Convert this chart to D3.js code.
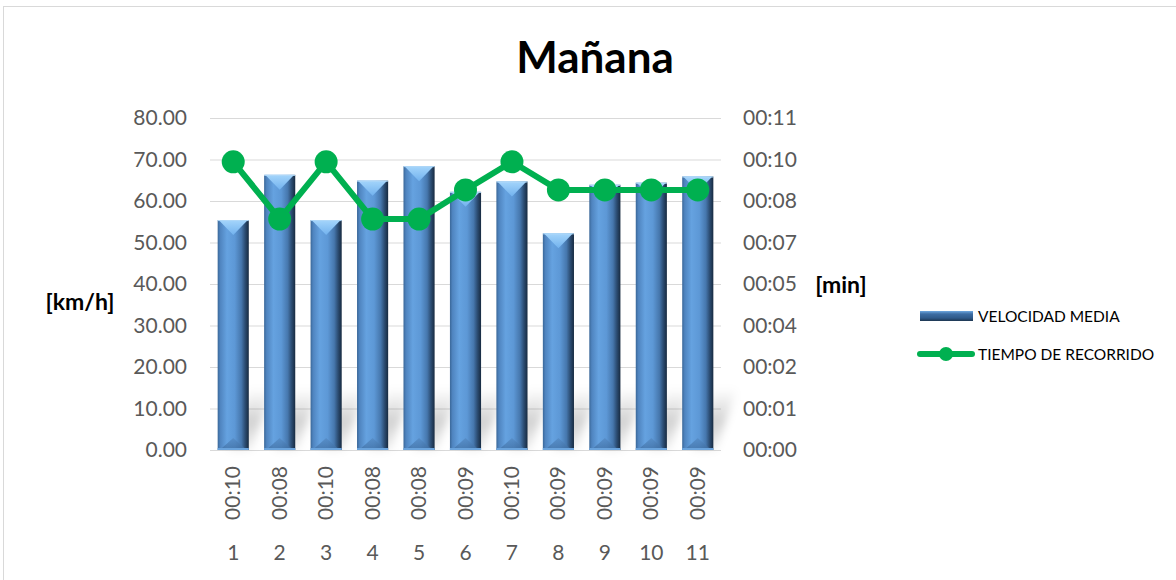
<!DOCTYPE html>
<html>
<head>
<meta charset="utf-8">
<script src="https://cdn.jsdelivr.net/npm/d3@7"></script>
<style>
  html, body { margin: 0; padding: 0; background: #fff; }
  svg { display: block; font-family: Lato, "Open Sans", sans-serif; }
</style>
</head>
<body>
<svg id="chart" width="1176" height="580"></svg>
<script>
// Trip numbers along the bottom axis
const categories = [1, 2, 3, 4, 5, 6, 7, 8, 9, 10, 11];
// Average speed per trip, km/h
const speedValues = [55.4, 66.3, 55.4, 64.9, 68.4, 62.2, 64.7, 52.2, 63.9, 64.4, 65.9];
// Travel time per trip, seconds
const travelSeconds = [573, 459, 573, 459, 459, 517, 573, 517, 517, 517, 517];
// Left axis ticks
const speedTicks = [0, 10, 20, 30, 40, 50, 60, 70, 80];
// Right axis tick labels (nine evenly spaced ticks up to 11 minutes)
const timeTickLabels = ["00:00", "00:01", "00:02", "00:04", "00:05", "00:07", "00:08", "00:10", "00:11"];
const timeMax = 660;
const seriesNames = ["VELOCIDAD MEDIA", "TIEMPO DE RECORRIDO"];

const svg = d3.select("#chart");
const W = 1176, H = 580;
const plot = { left: 210, right: 721, top: 118, bottom: 450 };

// Outer frame
svg.append("rect").attr("x", 3.5).attr("y", 6.5).attr("width", W).attr("height", H)
  .attr("fill", "#fff").attr("stroke", "#d9d9d9").attr("stroke-width", 1);

const defs = svg.append("defs");

// Cylinder-like body shading for the bars
const body = defs.append("linearGradient").attr("id", "barBody").attr("x1", 0).attr("x2", 1).attr("y1", 0).attr("y2", 0);
[[0, "#3a6798"], [0.08, "#4f84bf"], [0.3, "#65a2e0"], [0.55, "#5d98d6"], [0.76, "#4677ad"], [0.88, "#2c4d73"], [1, "#172a40"]]
  .forEach(([o, c]) => body.append("stop").attr("offset", o).attr("stop-color", c));

const bevelTop = defs.append("linearGradient").attr("id", "bevelTop").attr("x1", 0).attr("x2", 0).attr("y1", 0).attr("y2", 1);
bevelTop.append("stop").attr("offset", 0).attr("stop-color", "#a4d5fb");
bevelTop.append("stop").attr("offset", 1).attr("stop-color", "#72b2ee");

const bevelBottom = defs.append("linearGradient").attr("id", "bevelBottom").attr("x1", 0).attr("x2", 0).attr("y1", 0).attr("y2", 1);
bevelBottom.append("stop").attr("offset", 0).attr("stop-color", "#5489c2");
bevelBottom.append("stop").attr("offset", 1).attr("stop-color", "#3d6b9e");

const shadowGrad = defs.append("linearGradient").attr("id", "shadowGrad").attr("x1", 0).attr("x2", 0).attr("y1", 1).attr("y2", 0);
shadowGrad.append("stop").attr("offset", 0).attr("stop-color", "#000").attr("stop-opacity", 0.06);
shadowGrad.append("stop").attr("offset", 0.45).attr("stop-color", "#000").attr("stop-opacity", 0.18);
shadowGrad.append("stop").attr("offset", 1).attr("stop-color", "#000").attr("stop-opacity", 0);

defs.append("filter").attr("id", "soft").attr("x", "-50%").attr("y", "-50%").attr("width", "200%").attr("height", "200%")
  .append("feGaussianBlur").attr("stdDeviation", 4);

const legendBar = defs.append("linearGradient").attr("id", "legendBar").attr("x1", 0).attr("x2", 0).attr("y1", 0).attr("y2", 1);
[[0, "#6fa8e0"], [0.3, "#3d6da3"], [0.7, "#2f5a8a"], [1, "#1d3550"]]
  .forEach(([o, c]) => legendBar.append("stop").attr("offset", o).attr("stop-color", c));

// Scales
const x = d3.scaleBand().domain(categories).range([plot.left, plot.right]).paddingInner(0.33).paddingOuter(0.165);
const yLeft = d3.scaleLinear().domain([0, 80]).range([plot.bottom, plot.top]);
const yRight = d3.scaleLinear().domain([0, timeMax]).range([plot.bottom, plot.top]);

// Gridlines
svg.append("g").selectAll("line").data(speedTicks).join("line")
  .attr("x1", plot.left).attr("x2", plot.right)
  .attr("y1", d => yLeft(d) + 0.5).attr("y2", d => yLeft(d) + 0.5)
  .attr("stroke", "#d9d9d9").attr("stroke-width", 1.2);

// Left axis
const leftAxis = d3.axisLeft(yLeft).tickValues(speedTicks).tickFormat(d3.format(".2f")).tickSize(0).tickPadding(23);
const gL = svg.append("g").attr("transform", `translate(${plot.left},0)`).call(leftAxis);
gL.select(".domain").remove();
gL.selectAll("text").attr("font-size", 21).attr("fill", "#595959").attr("font-family", "Lato, sans-serif");

// Right axis
const rightTicks = d3.range(timeTickLabels.length).map(i => i * timeMax / (timeTickLabels.length - 1));
const rightAxis = d3.axisRight(yRight).tickValues(rightTicks).tickFormat((d, i) => timeTickLabels[i]).tickSize(0).tickPadding(22);
const gR = svg.append("g").attr("transform", `translate(${plot.right},0)`).call(rightAxis);
gR.select(".domain").remove();
gR.selectAll("text").attr("font-size", 21).attr("fill", "#595959").attr("font-family", "Lato, sans-serif");

// Floor shadows cast by the bars
const bw = x.bandwidth();
svg.append("g").attr("filter", "url(#soft)").selectAll("polygon").data(categories).join("polygon")
  .attr("points", d => {
    const x0 = x(d) + 10, x1 = x(d) + bw + 2, dx = 22, h = 62;
    return [[x0, plot.bottom], [x1, plot.bottom], [x1 + dx, plot.bottom - h], [x0 + dx, plot.bottom - h]].map(p => p.join(",")).join(" ");
  })
  .attr("fill", "url(#shadowGrad)");

// Bars with bevelled ends
const bars = svg.append("g").selectAll("g").data(categories.map((c, i) => ({ c, v: speedValues[i] }))).join("g")
  .attr("transform", d => `translate(${x(d.c)},0)`);
bars.append("rect").attr("x", 0).attr("width", bw)
  .attr("y", d => yLeft(d.v)).attr("height", d => plot.bottom - yLeft(d.v))
  .attr("fill", "url(#barBody)");
bars.append("polygon")
  .attr("points", d => { const t = yLeft(d.v); return `1,${t} ${bw - 1},${t} ${bw / 2},${t + 15}`; })
  .attr("fill", "url(#bevelTop)");
bars.append("line").attr("x1", 0).attr("x2", bw)
  .attr("y1", d => yLeft(d.v) + 0.5).attr("y2", d => yLeft(d.v) + 0.5)
  .attr("stroke", "#b0d8f8").attr("stroke-width", 1);
bars.append("polygon")
  .attr("points", `2,${plot.bottom} ${bw - 2},${plot.bottom} ${bw / 2},${plot.bottom - 12}`)
  .attr("fill", "url(#bevelBottom)").attr("opacity", 0.7);
bars.append("line").attr("x1", 0).attr("x2", bw)
  .attr("y1", plot.bottom - 1).attr("y2", plot.bottom - 1)
  .attr("stroke", "#6aa3dc").attr("stroke-width", 2);

// Travel time line
const cx = d => x(d) + bw / 2;
const lineData = categories.map((c, i) => ({ c, s: travelSeconds[i] }));
svg.append("path").datum(lineData)
  .attr("d", d3.line().x(d => cx(d.c)).y(d => yRight(d.s)))
  .attr("fill", "none").attr("stroke", "#00b050").attr("stroke-width", 6).attr("stroke-linejoin", "round");
svg.append("g").selectAll("circle").data(lineData).join("circle")
  .attr("cx", d => cx(d.c)).attr("cy", d => yRight(d.s)).attr("r", 11.5).attr("fill", "#00b050");

// Category axis: rounded travel time (rotated) above the trip number
const fmtMin = s => "00:" + String(Math.round(s / 60)).padStart(2, "0");
svg.append("g").selectAll("text").data(lineData).join("text")
  .attr("transform", d => `translate(${cx(d.c) + 7},493) rotate(-90)`)
  .attr("text-anchor", "middle").attr("font-size", 21).attr("fill", "#595959")
  .text(d => fmtMin(d.s));
svg.append("g").selectAll("text").data(categories).join("text")
  .attr("x", d => cx(d)).attr("y", 560).attr("text-anchor", "middle")
  .attr("font-size", 21).attr("fill", "#595959").text(d => d);

// Title and axis units
svg.append("text").attr("x", 595).attr("y", 73).attr("text-anchor", "middle")
  .attr("font-size", 44).attr("font-weight", "bold").attr("fill", "#000").text("Mañana");
svg.append("text").attr("x", 80).attr("y", 310).attr("text-anchor", "middle")
  .attr("font-size", 23).attr("font-weight", "bold").attr("fill", "#000").text("[km/h]");
svg.append("text").attr("x", 841).attr("y", 293).attr("text-anchor", "middle")
  .attr("font-size", 23).attr("font-weight", "bold").attr("fill", "#000").text("[min]");

// Legend
const lg = svg.append("g");
lg.append("rect").attr("x", 920).attr("y", 311).attr("width", 53).attr("height", 10).attr("fill", "url(#legendBar)");
lg.append("text").attr("x", 978).attr("y", 322).attr("font-size", 15.5).attr("fill", "#000").text(seriesNames[0]);
lg.append("line").attr("x1", 920).attr("x2", 972).attr("y1", 354).attr("y2", 354)
  .attr("stroke", "#00b050").attr("stroke-width", 6).attr("stroke-linecap", "round");
lg.append("circle").attr("cx", 946).attr("cy", 354).attr("r", 7).attr("fill", "#00b050");
lg.append("text").attr("x", 978).attr("y", 360).attr("font-size", 15.5).attr("fill", "#000").text(seriesNames[1]);
</script>
</body>
</html>
